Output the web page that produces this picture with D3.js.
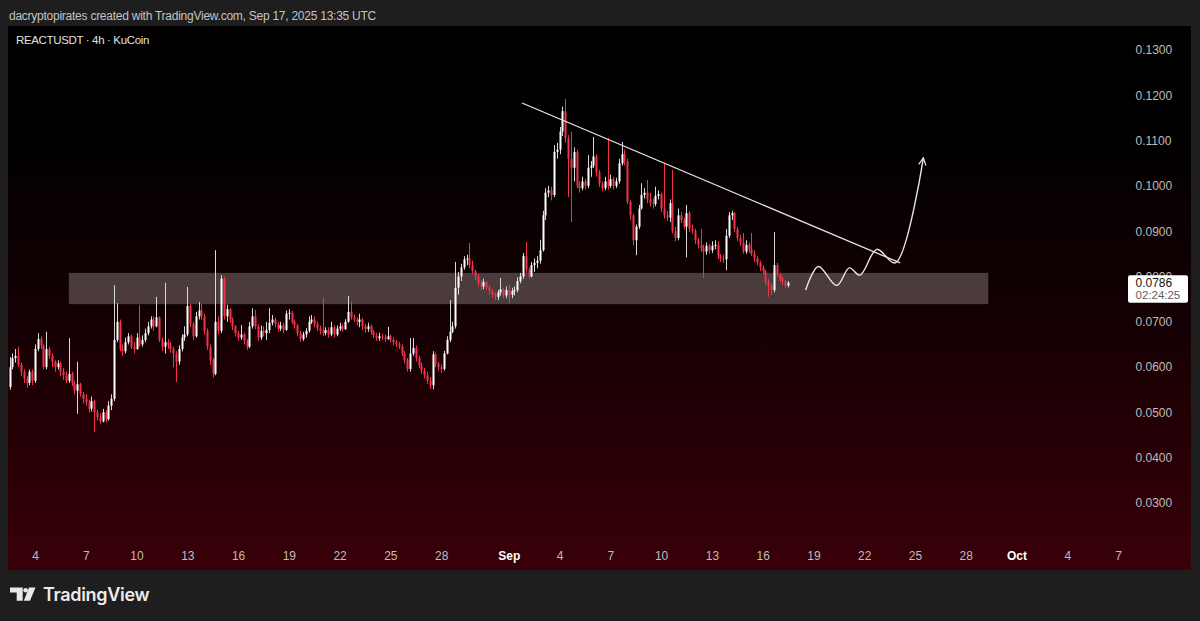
<!DOCTYPE html>
<html><head><meta charset="utf-8">
<script src="https://cdn.jsdelivr.net/npm/d3@7"></script>
<style>
html,body{margin:0;padding:0;background:#1e1e1e;}
svg{display:block;}
</style></head><body>
<svg id="c" width="1200" height="621"></svg>
<script>
// ---------- DATA ----------
const headerText = "dacryptopirates created with TradingView.com, Sep 17, 2025 13:35 UTC";
const symbolText = "REACTUSDT · 4h · KuCoin";
const firstCandle = "2025-08-02T12:00:00Z";
const candleHours = 4;
const priceUnit = 0.0001;          // values below are price × 10000
const firstOpen = 556;
const closes = [
600,620,625,605,590,575,565,590,570,640,
662,648,600,640,625,612,600,608,590,582,
570,585,565,548,562,540,530,522,508,525,
500,490,480,500,485,515,530,660,700,640,
635,655,668,645,640,665,650,660,675,690,
705,690,710,660,645,655,650,640,630,612,
640,665,672,735,695,668,712,725,712,680,
645,615,585,700,680,795,712,728,705,690,
675,665,672,658,645,690,712,690,665,680,
675,682,698,705,695,685,692,682,718,720,
700,692,675,662,672,680,700,705,695,685,
680,675,682,672,688,672,685,690,684,700,
722,710,705,700,705,690,684,690,678,670,
664,668,666,662,668,660,655,650,645,630,
615,596,630,642,620,604,592,582,570,560,
628,608,600,596,630,660,678,690,775,800,
820,838,840,825,812,800,785,778,788,776,
768,760,755,765,772,758,770,760,768,770,
790,800,845,815,800,825,830,835,858,935,
985,990,980,1075,1080,1120,1165,1105,1060,1040,
1075,1000,995,1010,1000,1040,1045,1065,1030,1005,
995,1010,1000,1015,1000,1010,1050,1070,1055,965,
935,880,910,950,980,985,970,962,960,978,
982,950,935,930,962,900,885,935,925,910,
940,905,900,880,870,862,855,868,858,868,
870,845,840,838,890,935,940,905,885,875,
855,870,860,850,840,830,820,812,790,780,
770,825,805,795,790,780,786];
const highs = [
622,630,640,645,610,595,580,595,595,650,
675,668,650,678,645,630,615,615,612,598,
590,664,590,570,612,565,545,540,528,535,
528,505,498,508,505,525,540,781,741,705,
650,665,675,672,655,675,737,670,685,700,
712,712,755,712,665,786,662,655,645,635,
648,672,690,777,740,700,722,744,740,718,
685,650,620,858,712,803,800,738,730,710,
693,680,693,676,662,700,730,726,695,692,
690,700,730,715,710,700,700,698,725,728,
724,705,695,680,678,686,712,715,712,700,
692,753,688,688,700,692,692,698,695,706,
757,744,716,710,718,708,695,698,694,682,
675,676,674,672,689,672,666,660,656,650,
635,620,664,664,648,625,610,598,590,578,
635,632,612,606,636,668,748,700,832,810,
828,845,848,874,835,815,805,792,795,790,
780,772,765,770,797,776,778,782,775,778,
798,808,852,876,820,832,840,845,881,945,
995,1000,998,1090,1095,1130,1175,1192,1112,1119,
1085,1080,1010,1020,1015,1068,1055,1108,1070,1035,
1010,1020,1106,1025,1020,1018,1060,1097,1080,1060,
968,938,915,958,1006,995,1013,985,972,998,
990,985,1051,945,970,1035,910,950,942,930,
958,945,915,905,885,905,870,875,872,878,
880,878,850,848,905,942,945,942,910,892,
896,880,875,896,858,845,835,825,815,795,
785,898,830,808,800,792,790];
const lows = [
550,595,610,600,580,565,555,560,560,565,
635,640,595,595,618,600,590,595,580,572,
565,565,558,540,497,535,520,515,500,502,
457,482,475,478,478,482,505,525,655,635,
625,630,650,640,630,638,645,645,655,670,
685,680,688,655,635,630,640,632,600,567,
605,635,658,668,688,660,665,705,705,672,
638,605,577,582,672,675,705,700,698,682,
668,658,660,650,638,642,685,684,658,660,
668,660,675,692,688,678,680,675,680,705,
695,685,668,656,658,665,676,695,688,680,
672,668,670,665,668,665,668,680,678,682,
698,705,700,692,688,682,676,678,672,664,
658,658,660,656,660,655,648,644,640,624,
608,590,590,625,612,598,585,575,563,552,
551,600,592,588,592,628,655,675,685,760,
790,815,825,818,805,792,778,770,772,770,
760,752,748,748,758,752,752,741,752,758,
765,785,795,808,795,798,810,818,828,855,
925,975,968,975,1060,1070,1110,1095,975,920,
1010,995,985,990,992,995,1020,1040,1020,998,
988,990,992,995,992,995,1005,1045,1045,960,
925,868,847,905,948,972,962,955,950,955,
970,942,928,922,920,895,878,880,918,905,
842,898,895,872,862,855,797,848,850,852,
860,838,832,830,814,885,925,898,878,868,
850,850,852,845,832,825,812,805,782,755,
760,765,800,788,782,775,776];

const yTicks = [0.03,0.04,0.05,0.06,0.07,0.08,0.09,0.10,0.11,0.12,0.13];
const xTickDates = ["2025-08-04","2025-08-07","2025-08-10","2025-08-13","2025-08-16","2025-08-19",
  "2025-08-22","2025-08-25","2025-08-28","2025-09-01","2025-09-04","2025-09-07","2025-09-10",
  "2025-09-13","2025-09-16","2025-09-19","2025-09-22","2025-09-25","2025-09-28","2025-10-01",
  "2025-10-04","2025-10-07"];
const xDomain = ["2025-08-04T00:00:00Z","2025-10-07T00:00:00Z"];
const yDomain = [0.03, 0.13];

const zoneTimes = ["2025-08-06T00:00:00Z","2025-09-29T08:00:00Z"];
const zonePrices = [0.0808, 0.0739];
const trendTimes = ["2025-09-01T18:45:00Z","2025-09-24T03:00:00Z"];
const trendPrices = [0.1183, 0.0830];
const pathTimes = ["2025-09-18T13:00:00Z","2025-09-19T07:00:00Z","2025-09-20T09:00:00Z","2025-09-21T03:00:00Z",
  "2025-09-21T18:00:00Z","2025-09-22T18:00:00Z","2025-09-23T20:00:00Z","2025-09-25T12:00:00Z"];
const pathPrices = [0.0770,0.0822,0.0780,0.0819,0.0803,0.0860,0.0830,0.1062];
const lastPriceText = "0.0786";
const countdownText = "02:24:25";

// ---------- DRAW ----------
const W = 1200, H = 621;
const svg = d3.select("#c");
const defs = svg.append("defs");
const grad = defs.append("linearGradient").attr("id","bg").attr("x1",0).attr("y1",0).attr("x2",0).attr("y2",1);
[[0,"#000000"],[0.22,"#020000"],[0.55,"#150003"],[1,"#39000a"]].forEach(([o,c]) =>
  grad.append("stop").attr("offset",o).attr("stop-color",c));
const mk = defs.append("marker").attr("id","arrow").attr("viewBox","0 0 10 10")
  .attr("refX",9).attr("refY",5).attr("markerWidth",9).attr("markerHeight",9)
  .attr("markerUnits","userSpaceOnUse").attr("orient","auto");
mk.append("path").attr("d","M1,1 L9,5 L1,9").attr("fill","none").attr("stroke","#e6e6e6").attr("stroke-width",1.3);

svg.append("rect").attr("width",W).attr("height",H).attr("fill","#1e1e1e");
svg.append("rect").attr("x",8).attr("y",26).attr("width",1183).attr("height",544).attr("fill","url(#bg)");

const font = "'Liberation Sans', Arial, sans-serif";
svg.append("text").attr("x",9).attr("y",19.5).attr("fill","#c4c4c4").attr("font-family",font)
  .attr("font-size",12).attr("letter-spacing",-0.25).text(headerText);
svg.append("text").attr("x",16).attr("y",44).attr("fill","#e0e0e0").attr("font-family",font)
  .attr("font-size",11.5).attr("letter-spacing",-0.35).text(symbolText);

const x = d3.scaleUtc().domain(xDomain.map(d=>new Date(d))).range([35,1118]);
const y = d3.scaleLinear().domain(yDomain).range([503,50]);

// zone
svg.append("rect")
  .attr("x",x(new Date(zoneTimes[0]))).attr("width",x(new Date(zoneTimes[1]))-x(new Date(zoneTimes[0])))
  .attr("y",y(zonePrices[0])).attr("height",y(zonePrices[1])-y(zonePrices[0]))
  .attr("fill","#dccaca").attr("fill-opacity",0.29);

// candles
const t0 = new Date(firstCandle).getTime();
const data = closes.map((c,i) => {
  const o = i === 0 ? firstOpen : closes[i-1];
  return {t:new Date(t0 + i*candleHours*3600e3), o:o*priceUnit, c:c*priceUnit,
          h:Math.max(highs[i],o,c)*priceUnit, l:Math.min(lows[i],o,c)*priceUnit};
});
const up = "#ffffff", down = "#f0344a";
const g = svg.append("g");
const cg = g.selectAll("g").data(data).join("g");
cg.append("line")
  .attr("x1",d=>Math.round(x(d.t))+0.5).attr("x2",d=>Math.round(x(d.t))+0.5)
  .attr("y1",d=>y(d.h)).attr("y2",d=>y(d.l))
  .attr("stroke",d=>d.c>=d.o?"#d8d8d8":down).attr("stroke-width",1);
cg.append("rect")
  .attr("x",d=>Math.round(x(d.t))-0.5).attr("width",2)
  .attr("y",d=>y(Math.max(d.o,d.c))).attr("height",d=>Math.max(1,Math.abs(y(d.o)-y(d.c))))
  .attr("fill",d=>d.c>=d.o?up:down);

// trend line
svg.append("line")
  .attr("x1",x(new Date(trendTimes[0]))).attr("y1",y(trendPrices[0]))
  .attr("x2",x(new Date(trendTimes[1]))).attr("y2",y(trendPrices[1]))
  .attr("stroke","#e8e4e4").attr("stroke-width",1.3);

// projection path
const pts = pathTimes.map((t,i)=>[x(new Date(t)), y(pathPrices[i])]);
svg.append("path").attr("d", d3.line().curve(d3.curveCatmullRom.alpha(0.5))(pts))
  .attr("fill","none").attr("stroke","#ebe6e6").attr("stroke-width",1.4)
  .attr("marker-end","url(#arrow)");

// y axis
const ya = svg.append("g").attr("transform","translate(1135.5,0)")
  .call(d3.axisRight(y).tickValues(yTicks).tickFormat(d3.format(".4f")).tickSize(0).tickPadding(0));
ya.select(".domain").remove();
ya.selectAll("text").attr("fill","#bdbdbd").attr("font-family",font).attr("font-size",12).attr("text-anchor","start");

// x axis
const xa = svg.append("g").attr("transform","translate(0,551)")
  .call(d3.axisBottom(x).tickValues(xTickDates.map(d=>new Date(d+"T00:00:00Z")))
    .tickFormat(d => d.getUTCDate()===1 ? d3.utcFormat("%b")(d) : d3.utcFormat("%-d")(d))
    .tickSize(0).tickPadding(0));
xa.select(".domain").remove();
xa.selectAll("text").attr("font-family",font).attr("font-size",12)
  .attr("fill",d=>d.getUTCDate()===1?"#ffffff":"#bdbdbd")
  .attr("font-weight",d=>d.getUTCDate()===1?700:400);

// last price label
const ly = y(closes[closes.length-1]*priceUnit);
svg.append("rect").attr("x",1128).attr("y",ly-7.5).attr("width",60).attr("height",27.5).attr("rx",2).attr("fill","#ffffff");
svg.append("text").attr("x",1135.5).attr("y",ly+4.5).attr("fill","#131313").attr("font-family",font).attr("font-size",12).text(lastPriceText);
svg.append("text").attr("x",1135.5).attr("y",ly+16.5).attr("fill","#5f5f5f").attr("font-family",font).attr("font-size",11.5).text(countdownText);

// logo
const lg = svg.append("g").attr("fill","#e9e9e9");
lg.append("path").attr("d","M10,587.5 H22.7 V600.7 H16.7 V592.5 H10 Z");
lg.append("circle").attr("cx",25.6).attr("cy",590.2).attr("r",2.3);
lg.append("path").attr("d","M29,587.5 H35.5 L30,600.7 H23.8 Z");
svg.append("text").attr("x",43).attr("y",601).attr("fill","#ececec").attr("font-family","Inter, 'Noto Sans', sans-serif")
  .attr("font-size",18).attr("font-weight",600).attr("letter-spacing",-0.3).text("TradingView");
</script>
</body></html>
